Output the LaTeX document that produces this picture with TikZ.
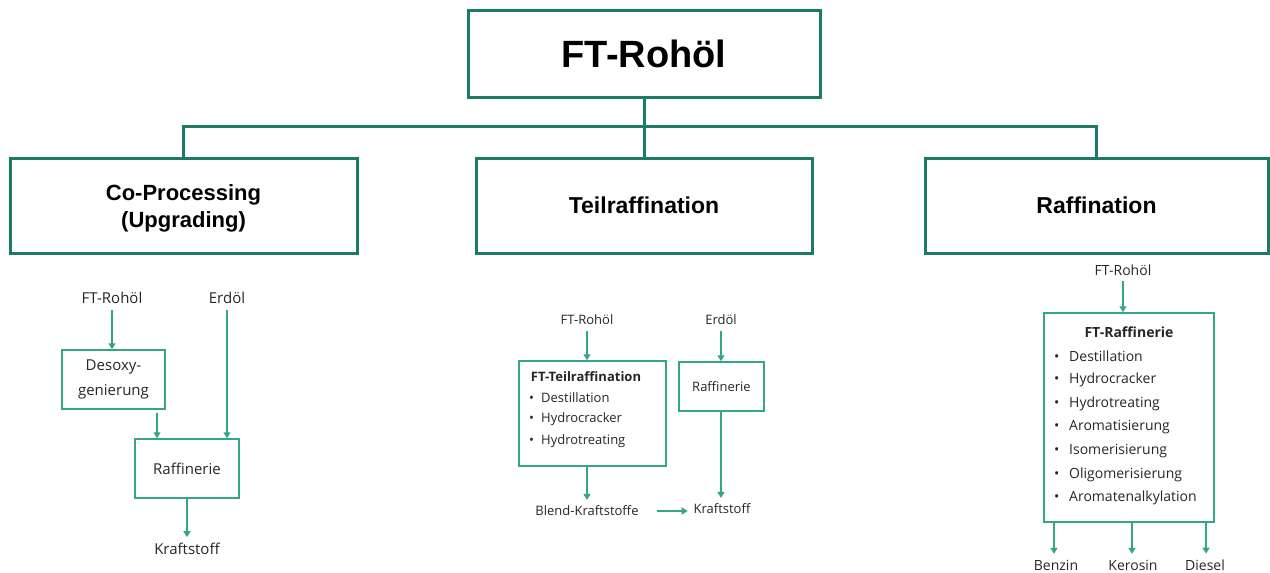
\documentclass[tikz,border=0pt]{standalone}
\usepackage{fontspec}
\setmainfont{Open Sans}
\newfontfamily\headfont{Liberation Sans}
\usetikzlibrary{arrows.meta}
\definecolor{frame}{HTML}{1B7C66}
\definecolor{flow}{HTML}{35A587}
\definecolor{ink}{HTML}{262626}
\newcommand{\bulitem}[2][11pt]{\makebox[#1][l]{•}#2}
\begin{document}
\begin{tikzpicture}[x=1pt,y=-1pt,
  mainbox/.style={draw=frame, line width=3pt, inner sep=0pt, align=center,
    font=\headfont\bfseries\fontsize{23}{27}\selectfont, text=black},
  pbox/.style={draw=flow, line width=1.5pt, inner sep=0pt, align=center, text=ink},
  lab/.style={inner sep=0pt, outer sep=6pt, text=ink},
  item/.style={inner sep=0pt, anchor=west, text=ink},
  bul/.style={inner sep=0pt, text=ink},
  arr/.style={draw=flow, line width=1.5pt, -{Triangle[length=6pt,width=7pt]}},
  fa/.style={font=\fontsize{15}{25}\selectfont},
  fb/.style={font=\fontsize{13}{16}\selectfont},
  fc/.style={font=\fontsize{14}{17}\selectfont}]
\useasboundingbox (0,0) rectangle (1270,573);

% --- hierarchy ---
\node[mainbox, minimum width=352pt, minimum height=87pt,
  font=\headfont\bfseries\fontsize{38}{42}\selectfont] (root) at (644,53.5) {FT-Rohöl};
\node[mainbox, minimum width=347pt, minimum height=95pt] (cop) at (183.5,205.5) {};
\node[inner sep=0pt, align=center, font=\headfont\bfseries\fontsize{22}{27}\selectfont]
  (coptext) at (183.5,208) {Co-Processing\\(Upgrading)};
\node[mainbox, minimum width=336pt, minimum height=95pt] (teil) at (644,205.5) {Teilraffination};
\node[mainbox, minimum width=343pt, minimum height=95pt] (raff) at (1096.5,205.5) {Raffination};
\draw[frame, line width=3pt] (root) -- (teil);
\draw[frame, line width=3pt] (cop.north) -- ++(0,-30) -| (raff.north);

% --- Co-Processing ---
\begin{scope}[fa]
\node[lab] (cfr) at (112,298) {FT-Rohöl};
\node[lab] (cer) at (227,298) {Erdöl};
\node[pbox, minimum width=103pt, minimum height=59pt] (desox) at (113.5,379.5) {Desoxy-\\genierung};
\node[pbox, minimum width=104pt, minimum height=59pt] (craf) at (187,468.5) {Raffinerie};
\node[lab] (ckr) at (187,549) {Kraftstoff};
\end{scope}
\draw[arr] (cfr) -- (cfr |- desox.north);
\draw[arr] ([xshift=43.5pt,yshift=-3pt]desox.south) -- ([xshift=43.5pt]desox.south |- craf.north);
\draw[arr] (cer) -- (cer |- craf.north);
\draw[arr] (craf) -- (ckr);

% --- Teilraffination ---
\begin{scope}[fb]
\node[lab] (mfr) at (587,320) {FT-Rohöl};
\node[lab] (mer) at (721,320) {Erdöl};
\node[pbox, minimum width=147pt, minimum height=105pt] (mteil) at (592.5,413.5) {};
\node[bul, font=\bfseries\fontsize{13}{16}\selectfont] (mt) at (586,377) {FT-Teilraffination};
\node[item] (mi1) at (529,398) {\bulitem[12pt]{Destillation}};
\node[item] (mi2) at (529,419) {\bulitem[12pt]{Hydrocracker}};
\node[item] (mi3) at (529,441) {\bulitem[12pt]{Hydrotreating}};
\node[pbox, minimum width=85pt, minimum height=49pt] (mraf) at (721.5,386.5) {Raffinerie};
\node[lab] (mbl) at (587,511) {Blend-Kraftstoffe};
\node[lab] (mkr) at (722,509) {Kraftstoff};
\end{scope}
\draw[arr] (mfr) -- (mfr |- mteil.north);
\draw[arr] (mer) -- (mer |- mraf.north);
\draw[arr] (mteil.south -| mfr) -- (mbl);
\draw[arr] (mraf.south -| mer) -- (mer |- mkr.north);
\draw[arr, shorten <=12pt] (mbl.east) -- (mbl.east -| mkr.west);

% --- Raffination ---
\begin{scope}[fc]
\node[lab] (rfr) at (1123,270) {FT-Rohöl};
\node[pbox, minimum width=170pt, minimum height=209pt] (rbox) at (1129,417.5) {};
\node[bul, font=\bfseries\fontsize{14}{17}\selectfont] (rt) at (1129,332) {FT-Raffinerie};
\foreach \y/\t [count=\i] in {356/Destillation, 380/Hydrocracker, 404/Hydrotreating,
    427/Aromatisierung, 451/Isomerisierung, 475/Oligomerisierung, 498/Aromatenalkylation}{
  \node[item] (ri\i) at (1054,\y) {\bulitem[15pt]{\t}};
}
\node[lab] (rbe) at (1056,565) {Benzin};
\node[lab] (rke) at (1133,565) {Kerosin};
\node[lab] (rdi) at (1205,565) {Diesel};
\end{scope}
\draw[arr] (rfr) -- (rfr |- rbox.north);
\draw[arr] ([xshift=-75pt]rbox.south) -- ([xshift=-75pt]rbox.south |- rbe.north);
\draw[arr] ([xshift=3pt]rbox.south) -- ([xshift=3pt]rbox.south |- rke.north);
\draw[arr] ([xshift=77pt]rbox.south) -- ([xshift=77pt]rbox.south |- rdi.north);
\end{tikzpicture}
\end{document}
